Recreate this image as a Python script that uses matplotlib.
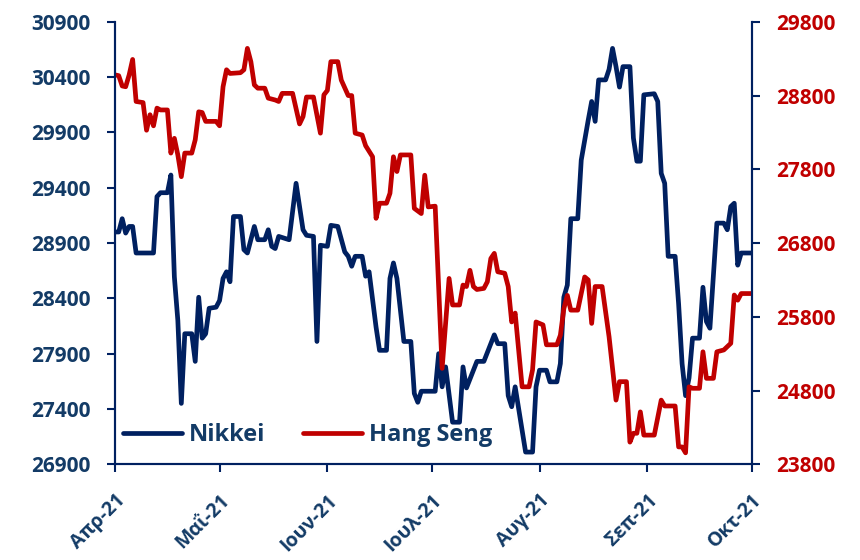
import matplotlib.pyplot as plt
import pandas as pd

# NIKKEI (eix esquerre)
nikkei_dates = ['04-01', '04-02', '04-03', '04-04', '04-05', '04-06', '04-07', '04-12', '04-13', '04-14',
                '04-16', '04-17', '04-18', '04-19', '04-20', '04-21', '04-23', '04-24', '04-25', '04-26',
                '04-27', '04-28', '04-30', '05-01', '05-02', '05-03', '05-04', '05-05', '05-07', '05-08',
                '05-09', '05-10', '05-11', '05-12', '05-14', '05-15', '05-16', '05-17', '05-18', '05-21',
                '05-23', '05-25', '05-26', '05-28', '05-29', '05-30', '06-01', '06-02', '06-04', '06-06',
                '06-07', '06-08', '06-09', '06-11', '06-12', '06-13', '06-15', '06-16', '06-18', '06-19',
                '06-20', '06-21', '06-23', '06-25', '06-26', '06-27', '06-28', '07-02', '07-03', '07-04',
                '07-05', '07-07', '07-09', '07-10', '07-11', '07-14', '07-16', '07-19', '07-20', '07-22',
                '07-23', '07-24', '07-25', '07-28', '07-30', '07-31', '08-01', '08-03', '08-04', '08-06',
                '08-07', '08-08', '08-09', '08-10', '08-12', '08-13', '08-15', '08-16', '08-17', '08-18',
                '08-20', '08-21', '08-22', '08-23', '08-24', '08-25', '08-27', '08-28', '08-29', '08-30',
                '08-31', '09-03', '09-04', '09-05', '09-06', '09-07', '09-09', '09-10', '09-11', '09-12',
                '09-13', '09-14', '09-16', '09-17', '09-18', '09-19', '09-21', '09-23', '09-24', '09-25',
                '09-26', '09-27', '09-28', '10-01']
nikkei = [29000, 29000, 29120, 28990, 29050, 29050, 28810, 28810, 29320, 29355,
          29355, 29515, 28595, 28200, 27450, 28080, 28080, 27830, 28410, 28040,
          28080, 28310, 28320, 28380, 28580, 28640, 28550, 29140, 29140, 28840,
          28810, 28930, 29050, 28930, 28930, 29020, 28870, 28850, 28960, 28930,
          29440, 29020, 28970, 28960, 28010, 28880, 28870, 29060, 29050, 28820,
          28780, 28690, 28780, 28780, 28600, 28640, 28140, 27930, 27930, 28580,
          28720, 28580, 28010, 28010, 27540, 27460, 27560, 27560, 27900, 27600,
          27780, 27280, 27280, 27780, 27590, 27830, 27830, 28070, 27990, 27990,
          27520, 27420, 27600, 27010, 27010, 27600, 27750, 27750, 27645, 27645,
          27810, 28410, 28520, 29120, 29120, 29650, 30010, 30180, 30000, 30375,
          30375, 30470, 30660, 30495, 30310, 30495, 30495, 29850, 29640, 29640,
          30240, 30250, 30180, 29530, 29440, 28780, 28780, 28350, 27810, 27520,
          27680, 28040, 28040, 28500, 28190, 28130, 29080, 29080, 29020, 29230,
          29260, 28700, 28810, 28810]

# HANG SENG (eix dret)
hs_dates = ['04-01', '04-02', '04-03', '04-04', '04-05', '04-06', '04-07', '04-09', '04-10', '04-11',
            '04-12', '04-13', '04-14', '04-16', '04-17', '04-18', '04-19', '04-20', '04-21', '04-23',
            '04-24', '04-25', '04-26', '04-27', '04-30', '05-01', '05-02', '05-03', '05-04', '05-07',
            '05-08', '05-09', '05-10', '05-11', '05-12', '05-14', '05-15', '05-17', '05-18', '05-19',
            '05-22', '05-24', '05-25', '05-26', '05-28', '05-30', '05-31', '06-01', '06-02', '06-04',
            '06-05', '06-07', '06-08', '06-09', '06-11', '06-12', '06-14', '06-15', '06-16', '06-18',
            '06-19', '06-20', '06-21', '06-22', '06-25', '06-26', '06-28', '06-29', '06-30', '07-02',
            '07-04', '07-06', '07-07', '07-09', '07-10', '07-11', '07-12', '07-13', '07-14', '07-16',
            '07-17', '07-18', '07-19', '07-20', '07-22', '07-23', '07-24', '07-25', '07-27', '07-29',
            '07-30', '07-31', '08-02', '08-03', '08-06', '08-07', '08-08', '08-09', '08-10', '08-12',
            '08-14', '08-15', '08-16', '08-17', '08-19', '08-21', '08-23', '08-24', '08-26', '08-27',
            '08-28', '08-29', '08-30', '08-31', '09-03', '09-05', '09-06', '09-09', '09-10', '09-11',
            '09-12', '09-13', '09-14', '09-16', '09-17', '09-18', '09-20', '09-21', '09-23', '09-25',
            '09-26', '09-27', '09-28', '10-01']
hang_seng = [29080, 29070, 28930, 28920, 29080, 29290, 28720, 28705, 28330, 28540,
             28390, 28630, 28605, 28605, 28020, 28220, 27995, 27700, 28020, 28020,
             28200, 28580, 28570, 28450, 28450, 28390, 28920, 29150, 29100, 29110,
             29150, 29440, 29260, 28945, 28900, 28900, 28765, 28740, 28720, 28830,
             28830, 28415, 28515, 28780, 28780, 28290, 28810, 28870, 29260, 29260,
             29010, 28800, 28800, 28290, 28265, 28120, 27970, 27135, 27340, 27340,
             27475, 27970, 27770, 27995, 27995, 27270, 27200, 27720, 27290, 27300,
             25100, 26320, 25960, 25960, 26230, 26210, 26430, 26210, 26170, 26185,
             26275, 26590, 26660, 26410, 26390, 26210, 25730, 25850, 24850, 24850,
             25080, 25730, 25690, 25420, 25420, 25550, 25910, 26090, 25890, 25890,
             26340, 26300, 25710, 26210, 26210, 25530, 24670, 24920, 24920, 24100,
             24220, 24220, 24510, 24195, 24195, 24670, 24590, 24590, 24035, 24035,
             23955, 24850, 24830, 24830, 25325, 24965, 24965, 25325, 25350, 25440,
             26095, 26025, 26115, 26115]

month_ticks = ['2021-04-01', '2021-05-01', '2021-06-01', '2021-07-01', '2021-08-01', '2021-09-01', '2021-10-01']
month_labels = ['Απρ-21', 'Μαΐ-21', 'Ιουν-21', 'Ιουλ-21', 'Αυγ-21', 'Σεπ-21', 'Οκτ-21']

navy = '#002060'
red = '#C00000'
txt = '#133B66'

plt.rcParams['font.family'] = ['Open Sans', 'DejaVu Sans']
plt.rcParams['font.weight'] = 'bold'

t_nk = pd.to_datetime(['2021-' + d for d in nikkei_dates])
t_hs = pd.to_datetime(['2021-' + d for d in hs_dates])

fig = plt.figure(figsize=(8.6, 5.6), dpi=100)
ax = fig.add_axes([0.134, 0.171, 0.740, 0.790])
ax2 = ax.twinx()

l1, = ax.plot(t_nk, nikkei, color=navy, linewidth=3.4, solid_joinstyle='round', solid_capstyle='round', label='Nikkei')
l2, = ax2.plot(t_hs, hang_seng, color=red, linewidth=3.4, solid_joinstyle='round', solid_capstyle='round', label='Hang Seng')

ax.set_xlim(pd.Timestamp('2021-04-01'), pd.Timestamp('2021-10-01'))
ax.set_ylim(26900, 30900)
ax.set_yticks(range(26900, 30901, 500))
ax2.set_ylim(23800, 29800)
ax2.set_yticks(range(23800, 29801, 1000))

ax.set_xticks(pd.to_datetime(month_ticks))
ax.set_xticklabels(month_labels, rotation=45, ha='right', va='top', rotation_mode='anchor')

for a in (ax, ax2):
    a.spines['top'].set_visible(False)
    for s in ('left', 'right', 'bottom'):
        a.spines[s].set_color(navy)
        a.spines[s].set_linewidth(1.5)

ax.tick_params(axis='y', direction='out', length=6, width=1.5, color=navy, labelcolor=txt, labelsize=15, pad=12)
ax.tick_params(axis='x', direction='out', length=6, width=1.5, color=navy, labelcolor=txt, labelsize=14, pad=13)
ax2.tick_params(axis='y', direction='out', length=6, width=1.5, color=navy, labelcolor=red, labelsize=15, pad=12)

leg = ax2.legend(handles=[l1, l2], loc='center left', bbox_to_anchor=(0.012, 0.066), ncol=2, frameon=False,
                 fontsize=17, handlelength=2.5, handletextpad=0.3, columnspacing=1.6, borderpad=0, borderaxespad=0)
for t in leg.get_texts():
    t.set_color(txt)

plt.savefig('out.png', dpi=100)
